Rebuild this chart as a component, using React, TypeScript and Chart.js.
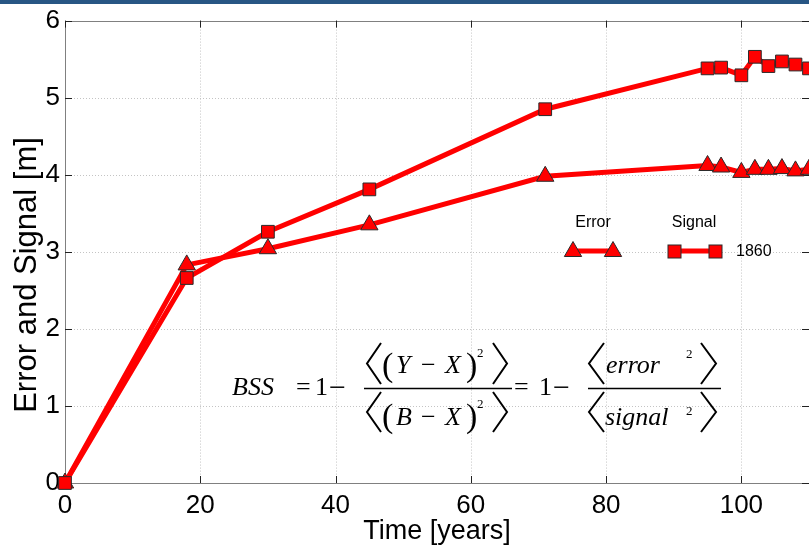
import React, { useEffect, useRef } from "react";
import { Chart, registerables } from "chart.js";
Chart.register(...registerables);

const timeYears = [0, 18, 30, 45, 71, 95, 97, 100, 102, 104, 106, 108, 110];
const errorValues = [0, 2.83, 3.04, 3.35, 3.98, 4.12, 4.1, 4.03, 4.07, 4.07, 4.08, 4.05, 4.07];
const signalValues = [0, 2.66, 3.26, 3.81, 4.85, 5.38, 5.39, 5.29, 5.53, 5.41, 5.47, 5.43, 5.38];
const xTicks = [0, 20, 40, 60, 80, 100];
const yTicks = [0, 1, 2, 3, 4, 5, 6];
const seriesNames = ["Error", "Signal"];
const legendNote = "1860";
const xTitle = "Time [years]";
const yTitle = "Error and Signal [m]";

const SANS = '"Liberation Sans", Arial, Helvetica, sans-serif';
const SERIF = '"Liberation Serif", "Times New Roman", serif';
const RED = "#ff0000";
const EDGE = "#2a2a2a";

function tri(ctx: CanvasRenderingContext2D, x: number, y: number, r: number) {
  ctx.beginPath();
  for (let i = 0; i < 3; i++) {
    const a = (i * 2 * Math.PI) / 3;
    const px = x + Math.sin(a) * r;
    const py = y - Math.cos(a) * r;
    if (i === 0) ctx.moveTo(px, py);
    else ctx.lineTo(px, py);
  }
  ctx.closePath();
  ctx.fillStyle = RED;
  ctx.fill();
  ctx.strokeStyle = EDGE;
  ctx.lineWidth = 1;
  ctx.stroke();
}
function sq(ctx: CanvasRenderingContext2D, x: number, y: number, s: number) {
  ctx.fillStyle = RED;
  ctx.fillRect(x - s, y - s, 2 * s, 2 * s);
  ctx.strokeStyle = EDGE;
  ctx.lineWidth = 1;
  ctx.strokeRect(x - s, y - s, 2 * s, 2 * s);
}
function seg(ctx: CanvasRenderingContext2D, x1: number, y1: number, x2: number, y2: number) {
  ctx.beginPath();
  ctx.moveTo(x1, y1);
  ctx.lineTo(x2, y2);
  ctx.stroke();
}
function chevron(ctx: CanvasRenderingContext2D, x1: number, x2: number, top: number, bottom: number, left: boolean) {
  ctx.beginPath();
  const mid = (top + bottom) / 2;
  if (left) {
    ctx.moveTo(x2, top);
    ctx.lineTo(x1, mid);
    ctx.lineTo(x2, bottom);
  } else {
    ctx.moveTo(x1, top);
    ctx.lineTo(x2, mid);
    ctx.lineTo(x1, bottom);
  }
  ctx.stroke();
}

const decor = {
  id: "decor",
  beforeDatasetsDraw(chart: any) {
    const { ctx, chartArea: a, scales } = chart;
    const xs = scales.x;
    const ys = scales.y;
    ctx.save();
    ctx.lineWidth = 1;
    ctx.strokeStyle = "#c4c4c4";
    ctx.setLineDash([1, 2]);
    for (const v of xTicks) {
      if (v === 0) continue;
      const px = Math.round(xs.getPixelForValue(v)) + 0.5;
      seg(ctx, px, a.top, px, a.bottom);
    }
    for (const v of yTicks) {
      if (v === 0 || v === 6) continue;
      const py = Math.round(ys.getPixelForValue(v)) + 0.5;
      seg(ctx, a.left, py, a.right, py);
    }
    ctx.setLineDash([]);
    ctx.strokeStyle = "#808080";
    ctx.strokeRect(Math.round(a.left) + 0.5, Math.round(a.top) + 0.5, Math.round(a.right - a.left), Math.round(a.bottom - a.top));
    ctx.strokeStyle = "#222";
    for (const v of xTicks) {
      const px = Math.round(xs.getPixelForValue(v)) + 0.5;
      seg(ctx, px, a.bottom, px, a.bottom - 7);
      seg(ctx, px, a.top, px, a.top + 7);
    }
    for (const v of yTicks) {
      const py = Math.round(ys.getPixelForValue(v)) + 0.5;
      seg(ctx, a.left, py, a.left + 7, py);
      seg(ctx, a.right, py, a.right - 7, py);
    }
    // y axis title
    ctx.save();
    ctx.translate(36, 275);
    ctx.rotate(-Math.PI / 2);
    ctx.fillStyle = "#000";
    ctx.font = `31px ${SANS}`;
    ctx.textAlign = "center";
    ctx.textBaseline = "alphabetic";
    ctx.fillText(yTitle, 0, 0);
    ctx.restore();
    ctx.restore();
  },
  afterDraw(chart: any) {
    const ctx: CanvasRenderingContext2D = chart.ctx;
    ctx.save();
    // legend
    ctx.fillStyle = "#000";
    ctx.font = `16px ${SANS}`;
    ctx.textAlign = "center";
    ctx.textBaseline = "alphabetic";
    ctx.fillText(seriesNames[0], 593, 227);
    ctx.fillText(seriesNames[1], 694, 227);
    ctx.textAlign = "left";
    ctx.fillText(legendNote, 736, 256);
    ctx.strokeStyle = RED;
    ctx.lineWidth = 5;
    seg(ctx, 573, 251, 613, 251);
    seg(ctx, 675, 251, 715, 251);
    tri(ctx, 573, 251.5, 10);
    tri(ctx, 613, 251.5, 10);
    sq(ctx, 674.5, 251.5, 6.5);
    sq(ctx, 715.5, 251.5, 6.5);

    // formula
    ctx.fillStyle = "#000";
    ctx.textAlign = "left";
    ctx.textBaseline = "alphabetic";
    const it = `italic 26px ${SERIF}`;
    const rm = `26px ${SERIF}`;
    const mn = `30px ${SERIF}`;
    const big = `34px ${SERIF}`;
    const sup = `13px ${SERIF}`;
    const put = (f: string, t: string, x: number, y: number) => {
      ctx.font = f;
      ctx.fillText(t, x, y);
    };
    put(it, "BSS", 232, 395);
    put(rm, "=", 296, 395);
    put(rm, "1", 315, 395);
    put(mn, "\u2212", 329, 397);
    // fraction 1
    put(big, "(", 382, 376);
    put(it, "Y", 396, 373);
    put(rm, "\u2212", 421, 373);
    put(it, "X", 445, 373);
    put(big, ")", 466, 376);
    put(sup, "2", 477, 357);
    put(big, "(", 382, 427);
    put(it, "B", 396, 425);
    put(rm, "\u2212", 421, 425);
    put(it, "X", 445, 425);
    put(big, ")", 466, 427);
    put(sup, "2", 477, 408);
    put(rm, "=", 514, 395);
    put(rm, "1", 539, 395);
    put(mn, "\u2212", 553, 397);
    // fraction 2
    put(it, "error", 606, 373);
    put(sup, "2", 686, 358);
    put(it, "signal", 605, 425);
    put(sup, "2", 686, 415);
    ctx.strokeStyle = "#000";
    ctx.lineWidth = 1.6;
    seg(ctx, 364, 388.5, 512, 388.5);
    seg(ctx, 588, 388.5, 721, 388.5);
    ctx.lineWidth = 2;
    chevron(ctx, 367, 381, 343, 384, true);
    chevron(ctx, 493, 507, 343, 384, false);
    chevron(ctx, 367, 381, 392, 432, true);
    chevron(ctx, 493, 507, 392, 432, false);
    chevron(ctx, 589, 604, 343, 384, true);
    chevron(ctx, 701, 716, 343, 384, false);
    chevron(ctx, 589, 604, 392, 432, true);
    chevron(ctx, 701, 716, 392, 432, false);
    ctx.restore();
  },
};

export default function App() {
  const ref = useRef<HTMLCanvasElement | null>(null);
  useEffect(() => {
    if (!ref.current) return;
    Chart.defaults.font.family = SANS;
    const chart = new Chart(ref.current, {
      type: "line",
      data: {
        datasets: [
          {
            label: seriesNames[1],
            data: timeYears.map((t, i) => ({ x: t, y: signalValues[i] })),
            borderColor: RED,
            backgroundColor: RED,
            borderWidth: 5,
            pointStyle: "rect",
            pointRadius: 9,
            pointBorderColor: EDGE,
            pointBorderWidth: 1,
            pointBackgroundColor: RED,
            clip: false,
          },
          {
            label: seriesNames[0],
            data: timeYears.map((t, i) => ({ x: t, y: errorValues[i] })),
            borderColor: RED,
            backgroundColor: RED,
            borderWidth: 5,
            pointStyle: "triangle",
            pointRadius: 10,
            pointBorderColor: EDGE,
            pointBorderWidth: 1,
            pointBackgroundColor: RED,
            clip: false,
          },
        ],
      },
      options: {
        responsive: false,
        animation: false,
        layout: { padding: { left: 0, top: 19, right: 10, bottom: 0 } },
        plugins: { legend: { display: false }, tooltip: { enabled: false } },
        scales: {
          x: {
            type: "linear",
            min: 0,
            max: 110,
            grid: { display: false, drawTicks: false },
            border: { display: false },
            afterBuildTicks: (s: any) => {
              s.ticks = xTicks.map((v) => ({ value: v }));
            },
            afterFit: (s: any) => {
              s.height = 67;
            },
            ticks: { color: "#000", font: { size: 26, family: SANS }, padding: 7, maxRotation: 0, autoSkip: false },
            title: { display: true, text: xTitle, color: "#000", font: { size: 27, family: SANS }, padding: { top: 0, bottom: 2 } },
          },
          y: {
            type: "linear",
            min: 0,
            max: 6,
            grid: { display: false, drawTicks: false },
            border: { display: false },
            afterBuildTicks: (s: any) => {
              s.ticks = yTicks.map((v) => ({ value: v }));
            },
            afterFit: (s: any) => {
              s.width = 65;
            },
            ticks: { color: "#000", font: { size: 26, family: SANS }, padding: 5, autoSkip: false },
            title: { display: false },
          },
        },
      },
      plugins: [decor],
    } as any);
    return () => chart.destroy();
  }, []);
  return (
    <div style={{ position: "fixed", left: 0, top: 0, width: 809, height: 550, overflow: "hidden", background: "#fff" }}>
      <canvas ref={ref} width={820} height={550} style={{ display: "block", width: 820, height: 550 }} />
      <div style={{ position: "absolute", left: 0, top: 0, width: 809, height: 4, background: "#285684" }} />
    </div>
  );
}
